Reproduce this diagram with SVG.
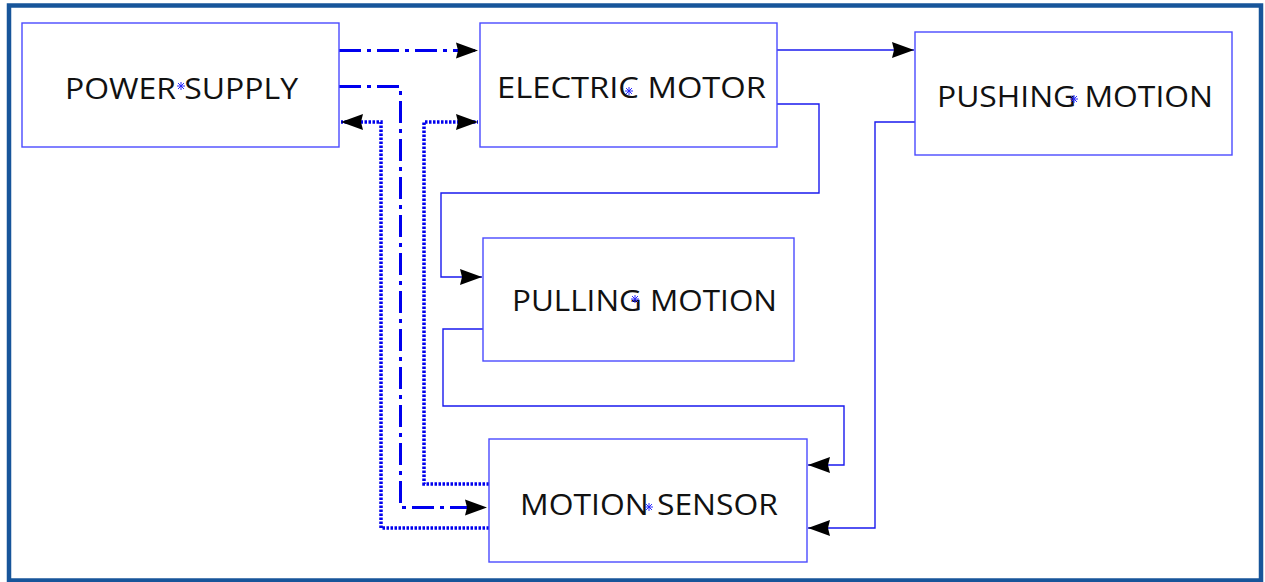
<svg xmlns="http://www.w3.org/2000/svg" width="1265" height="582" viewBox="0 0 1265 582">
<style>
.box{fill:#fff;stroke:#4a4aff;stroke-width:1.4}
.lbl{font-family:"Open Sans","Liberation Sans",sans-serif;font-weight:400;font-size:29px;fill:#111}
.thin{fill:none;stroke:#1a1aee;stroke-width:1.4}
.dashdot{fill:none;stroke:#0000ee;stroke-width:3;stroke-dasharray:22 6 4 6}
.dot{fill:none;stroke:#0000ee;stroke-width:3.5;stroke-dasharray:2.5 1.5}
.ast{stroke:#2a2aff;stroke-width:1;fill:none}
</style>
<defs>
<marker id="ah" markerUnits="userSpaceOnUse" markerWidth="24" markerHeight="20" refX="22" refY="10" orient="auto" viewBox="0 0 24 20">
<path d="M0,2 L22,10 L0,18 L2,10 z" fill="#000"/>
</marker>
<g id="star"><path class="ast" d="M-4,0 H4 M0,-4 V4 M-3,-3 L3,3 M-3,3 L3,-3"/></g>
</defs>
<rect x="9" y="5.5" width="1252" height="575" fill="#fff" stroke="#17559a" stroke-width="4.5"/>
<g id="connectors">
<path class="dashdot" d="M339,50.5 H478" marker-end="url(#ah)"/>
<path class="dashdot" d="M339,86.5 H400.5 V507.5 H487" marker-end="url(#ah)"/>
<path class="dot" d="M489,528 H381 V122 H341" marker-end="url(#ah)"/>
<path class="dot" d="M489,484 H424 V122 H478" marker-end="url(#ah)"/>
<path class="thin" d="M777,50 H914" marker-end="url(#ah)"/>
<path class="thin" d="M777,104 H819 V193 H441 V277 H482" marker-end="url(#ah)"/>
<path class="thin" d="M483,329 H443 V406 H844 V465 H808" marker-end="url(#ah)"/>
<path class="thin" d="M915,122 H875 V528 H808" marker-end="url(#ah)"/>
</g>
<g id="power-supply">
<rect class="box" x="22" y="23" width="317" height="124"/>
<text class="lbl" x="65" y="99" textLength="233" lengthAdjust="spacingAndGlyphs">POWER SUPPLY</text>
<use href="#star" x="181" y="86"/>
</g>
<g id="electric-motor">
<rect class="box" x="480" y="23" width="297" height="124"/>
<text class="lbl" x="497" y="98" textLength="269" lengthAdjust="spacingAndGlyphs">ELECTRIC MOTOR</text>
<use href="#star" x="629" y="91"/>
</g>
<g id="pushing-motion">
<rect class="box" x="915" y="32" width="317" height="123"/>
<text class="lbl" x="937" y="107" textLength="276" lengthAdjust="spacingAndGlyphs">PUSHING MOTION</text>
<use href="#star" x="1074" y="99"/>
</g>
<g id="pulling-motion">
<rect class="box" x="483" y="238" width="311" height="123"/>
<text class="lbl" x="512" y="311" textLength="265" lengthAdjust="spacingAndGlyphs">PULLING MOTION</text>
<use href="#star" x="635" y="299"/>
</g>
<g id="motion-sensor">
<rect class="box" x="489" y="439" width="318" height="123"/>
<text class="lbl" x="520" y="515" textLength="258" lengthAdjust="spacingAndGlyphs">MOTION SENSOR</text>
<use href="#star" x="649" y="507"/>
</g>
</svg>
